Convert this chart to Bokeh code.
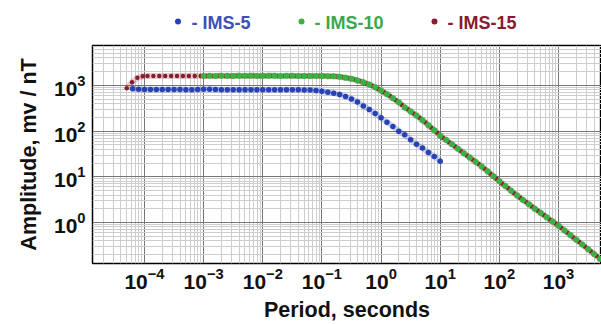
from bokeh.plotting import figure
from bokeh.models import FixedTicker, ColumnDataSource, Range1d
from bokeh.layouts import column
from bokeh.embed import file_html
from bokeh.resources import INLINE
from bokeh.core.properties import value

# ---------------- data (log10 of period in seconds, amplitude in mV/nT) ----------------
series_names = ["- IMS-5", "- IMS-10", "- IMS-15"]
series_colors = ["#2742b4", "#3cb043", "#8b1c2e"]
legend_text_colors = ["#3f4fb3", "#3aa84a", "#8a1a2e"]

ims5_log_period = [-4.2, -4.1, -4.0, -3.9, -3.8, -3.7, -3.6, -3.5, -3.4, -3.3, -3.2, -3.1, -3.0,
                   -2.9, -2.8, -2.7, -2.6, -2.5, -2.4, -2.3, -2.2, -2.1, -2.0, -1.9, -1.8, -1.7,
                   -1.6, -1.5, -1.4, -1.3, -1.2, -1.1, -1.0, -0.9, -0.8, -0.7, -0.6, -0.5, -0.4,
                   -0.3, -0.2, -0.1, 0.0, 0.1, 0.2, 0.3, 0.4, 0.5, 0.6, 0.7, 0.8, 0.9, 1.0]
ims5_amp = [850, 822, 820, 818, 820, 818, 816, 818, 812, 806, 810, 815, 822,
            822, 818, 810, 806, 805, 808, 810, 808, 806, 810, 808, 806, 806,
            805, 805, 803, 800, 795, 776, 745, 713, 679, 631, 577, 505, 435,
            357, 299, 245, 196, 157, 127, 100, 83, 65, 52, 43, 34, 28, 22]

ims10_log_period = [-3.0, -2.9, -2.8, -2.7, -2.6, -2.5, -2.4, -2.3, -2.2, -2.1, -2.0, -1.9, -1.8,
                    -1.7, -1.6, -1.5, -1.4, -1.3, -1.2, -1.1, -1.0, -0.9, -0.8, -0.7, -0.6, -0.5,
                    -0.4, -0.3, -0.2, -0.1, 0.0, 0.1, 0.2, 0.3, 0.4, 0.5, 0.6, 0.7, 0.8, 0.9,
                    1.0, 1.1, 1.2, 1.3, 1.4, 1.5, 1.6, 1.7, 1.8, 1.9, 2.0, 2.1, 2.2, 2.3, 2.4,
                    2.5, 2.6, 2.7, 2.8, 2.9, 3.0, 3.1, 3.2, 3.3, 3.4, 3.5, 3.6, 3.7]
ims10_amp = [1620, 1625, 1620, 1630, 1625, 1620, 1625, 1630, 1625, 1620, 1625, 1630, 1625,
             1620, 1625, 1625, 1620, 1620, 1615, 1615, 1610, 1600, 1590, 1550, 1480, 1400,
             1290, 1175, 1050, 910, 776, 646, 525, 427, 331, 269, 219, 174, 135, 105,
             79, 64, 51.5, 41, 33, 26.5, 21.2, 16.9, 13.3, 10.3, 8.0, 6.3, 4.95, 3.9, 3.1,
             2.5, 2.0, 1.62, 1.3, 1.05, 0.85, 0.67, 0.53, 0.42, 0.33, 0.26, 0.205, 0.16]

ims15_log_period = [-4.3, -4.21, -4.12, -4.03, -3.95, -3.85, -3.75, -3.65, -3.55, -3.45, -3.35,
                    -3.25, -3.15, -3.05, -2.95, -2.85, -2.75, -2.65, -2.55, -2.45, -2.35, -2.25,
                    -2.15, -2.05, -1.95, -1.85, -1.75, -1.65, -1.55, -1.45, -1.35, -1.25, -1.15,
                    -1.05, -0.95, -0.85, -0.75, -0.65, -0.55, -0.45, -0.35, -0.25, -0.15, -0.05,
                    0.05, 0.15, 0.25, 0.35, 0.45, 0.55, 0.65, 0.75, 0.85, 0.95, 1.05, 1.15, 1.25,
                    1.35, 1.45, 1.55, 1.65, 1.75, 1.85, 1.95, 2.05, 2.15, 2.25, 2.35, 2.45, 2.55,
                    2.65, 2.75, 2.85, 2.95, 3.05, 3.15, 3.25, 3.35, 3.45, 3.55, 3.65]
ims15_amp = [870, 1180, 1470, 1590, 1610, 1615, 1615, 1620, 1615, 1615, 1620,
             1615, 1615, 1620, 1620, 1620, 1625, 1620, 1620, 1625, 1620, 1620,
             1625, 1620, 1620, 1625, 1620, 1620, 1620, 1620, 1615, 1615, 1612,
             1610, 1605, 1595, 1570, 1515, 1440, 1345, 1230, 1110, 980, 840,
             710, 585, 475, 378, 300, 244, 196, 154, 119, 92, 71, 57, 46,
             37, 29.5, 23.7, 19, 15, 11.7, 9.1, 7.1, 5.6, 4.4, 3.5, 2.8, 2.24,
             1.8, 1.46, 1.17, 0.95, 0.76, 0.6, 0.47, 0.375, 0.295, 0.232, 0.183]

x_tick_exponents = [-4, -3, -2, -1, 0, 1, 2, 3]
y_tick_exponents = [0, 1, 2, 3]

x_label = "Period, seconds"
y_label = "Amplitude, mv / nT"

# ---------------- main plot ----------------
FONT = "Liberation Sans"
LEFT = 92

p = figure(width=601, height=287, x_axis_type="log", y_axis_type="log",
           x_range=Range1d(10 ** -4.879, 10 ** 3.727),
           y_range=Range1d(10 ** -0.897, 10 ** 3.875),
           output_backend="svg", toolbar_location=None,
           min_border_left=LEFT, min_border_right=0, min_border_top=8, min_border_bottom=61)

p.background_fill_color = "white"
p.border_fill_color = "white"
p.outline_line_color = "black"
p.outline_line_width = 1.5

x_minor = [m * 10.0 ** k for k in range(-5, 4) for m in range(2, 10)]
y_minor = [m * 10.0 ** k for k in range(-1, 4) for m in range(2, 10)]
xt = FixedTicker(ticks=[10.0 ** e for e in x_tick_exponents], minor_ticks=x_minor)
yt = FixedTicker(ticks=[10.0 ** e for e in y_tick_exponents], minor_ticks=y_minor)
p.xaxis.ticker = xt
p.yaxis.ticker = yt
p.xgrid.ticker = xt
p.ygrid.ticker = yt

for g in (p.xgrid, p.ygrid):
    g.grid_line_color = "#777777"
    g.grid_line_width = 1
    g.minor_grid_line_color = "#cdcdcd"
    g.minor_grid_line_width = 1

for ax in (p.xaxis, p.yaxis):
    ax.axis_line_color = None
    ax.major_tick_line_color = None
    ax.minor_tick_line_color = None
    ax.major_tick_out = 0
    ax.major_tick_in = 0
    ax.minor_tick_out = 0
    ax.minor_tick_in = 0
    ax.major_label_text_font = FONT
    ax.major_label_text_font_style = "bold"
    ax.major_label_text_font_size = "21px"
    ax.major_label_text_color = "#111111"
    ax.axis_label_text_font = FONT
    ax.axis_label_text_font_style = "bold"
    ax.axis_label_text_font_size = "21.5px"
    ax.axis_label_text_color = "#111111"

p.xaxis.axis_label = x_label
p.yaxis.axis_label = y_label
p.xaxis.major_label_standoff = 4
p.yaxis.major_label_standoff = 7
p.xaxis.axis_label_standoff = 6
p.yaxis.axis_label_standoff = 10

series = [
    (ims5_log_period, ims5_amp, series_colors[0], 5.5),
    (ims15_log_period, ims15_amp, series_colors[2], 4.5),
    (ims10_log_period, ims10_amp, series_colors[1], 6.0),
]
sources = []
for lp, amp, col, sz in series:
    src = ColumnDataSource(dict(period=[10.0 ** v for v in lp], amp=amp))
    sources.append((src, col, sz))

# faint halos first
for src, col, sz in sources:
    p.line("period", "amp", source=src, line_color=col, line_width=6, line_alpha=0.22)
for src, col, sz in sources:
    p.scatter("period", "amp", source=src, size=sz, fill_color=col, line_color=None)

# ---------------- legend row (frame aligned with main plot; 1 data unit = 1 px) ----------------
lg = figure(width=601, height=37, x_range=Range1d(LEFT, 601), y_range=Range1d(0, 37),
            output_backend="svg", toolbar_location=None,
            min_border_left=LEFT, min_border_right=0, min_border_top=0, min_border_bottom=0,
            x_axis_location=None, y_axis_location=None)
lg.grid.visible = False
lg.outline_line_color = None
lg.background_fill_color = "white"
lg.border_fill_color = "white"

legend_dot_x = [177.5, 301, 434]
legend_text_x = [191, 314, 447]
lsrc = ColumnDataSource(dict(dx=legend_dot_x, tx=legend_text_x, dy=[16, 16, 16], ty=[15, 15, 15],
                             label=series_names, dc=series_colors, tc=legend_text_colors))
lg.scatter("dx", "dy", source=lsrc, size=6, fill_color="dc", line_color=None)
lg.text("tx", "ty", text="label", source=lsrc, text_color="tc", text_font=value(FONT),
        text_font_style="bold", text_font_size="18px", text_baseline="middle", text_align="left")

layout = column(lg, p, spacing=0)
open("out.html", "w").write(file_html(layout, INLINE))
